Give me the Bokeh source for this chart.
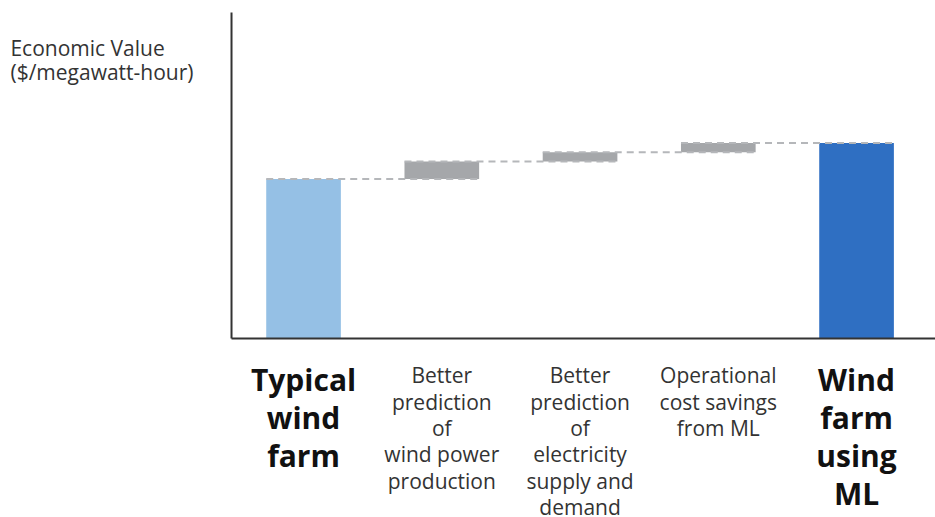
from bokeh.plotting import figure
from bokeh.models import Range1d, ColumnDataSource
from bokeh.core.properties import value
from bokeh.embed import file_html
from bokeh.resources import INLINE

# ---- data ----
categories = [
    "Typical\nwind\nfarm",
    "Better\nprediction\nof\nwind power\nproduction",
    "Better\nprediction\nof\nelectricity\nsupply and\ndemand",
    "Operational\ncost savings\nfrom ML",
    "Wind\nfarm\nusing\nML",
]
kinds = ["total", "step", "step", "step", "total"]
start_value = 48.9
step_values = [5.4, 2.8, 2.9]
y_title = "Economic Value\n($/megawatt-hour)"

# ---- derived waterfall geometry ----
bottoms, tops = [0.0], [start_value]
running = start_value
for v in step_values:
    bottoms.append(running); tops.append(running + v); running += v
bottoms.append(0.0); tops.append(running)

colors = ["#95c0e5", "#a5a7aa", "#a5a7aa", "#a5a7aa", "#2f6fc2"]
xs = list(range(len(categories)))
bar_w = 0.54
x_lo, x_hi = -0.521, 4.571      # plotting area of the chart (axes box)
y_lo, y_hi = 0, 100

FONT = value("Open Sans")

p = figure(width=935, height=517, output_backend="svg", toolbar_location=None,
           x_range=Range1d(-2.192, 4.571), y_range=Range1d(-54.9, 103.68),
           x_axis_type=None, y_axis_type=None, min_border=0)
p.outline_line_color = None
p.background_fill_color = "white"
p.border_fill_color = "white"

src = ColumnDataSource(dict(x=xs, top=tops, bottom=bottoms, color=colors))
p.vbar(x="x", top="top", bottom="bottom", width=bar_w, color="color",
       line_color=None, source=src)

# connector dashed lines
seg_x0, seg_x1, seg_y = [], [], []
for k in range(len(categories) - 1):
    seg_x0.append(xs[k] - bar_w / 2)
    seg_x1.append(xs[k + 1] + bar_w / 2)
    seg_y.append(tops[k])
p.segment(x0=seg_x0, y0=seg_y, x1=seg_x1, y1=seg_y, line_color="#b5b7ba",
          line_width=2, line_dash="7 5")

# axis lines
p.segment(x0=[x_lo, x_lo], y0=[y_lo, y_lo], x1=[x_lo, x_hi], y1=[y_hi, y_lo],
          line_color="#333333", line_width=2)

# category labels below the axis
bold_idx = [i for i, k in enumerate(kinds) if k == "total"]
reg_idx = [i for i, k in enumerate(kinds) if k != "total"]
p.text(x=[xs[i] for i in bold_idx], y=[-6.3] * len(bold_idx),
       text=[categories[i] for i in bold_idx], text_align="center",
       text_baseline="top", text_font=FONT, text_font_style="bold",
       text_font_size="30px", text_color="#111111", text_line_height=0.93)
p.text(x=[xs[i] for i in reg_idx], y=[-7.0] * len(reg_idx),
       text=[categories[i] for i in reg_idx], text_align="center",
       text_baseline="top", text_font=FONT,
       text_font_size="21px", text_color="#333333", text_line_height=0.94)

# y title
p.text(x=[-2.12], y=[93.3], text=[y_title], text_align="left",
       text_baseline="top", text_font=FONT, text_font_size="21px",
       text_color="#333333", text_line_height=0.84)

open("out.html", "w").write(file_html(p, INLINE))
